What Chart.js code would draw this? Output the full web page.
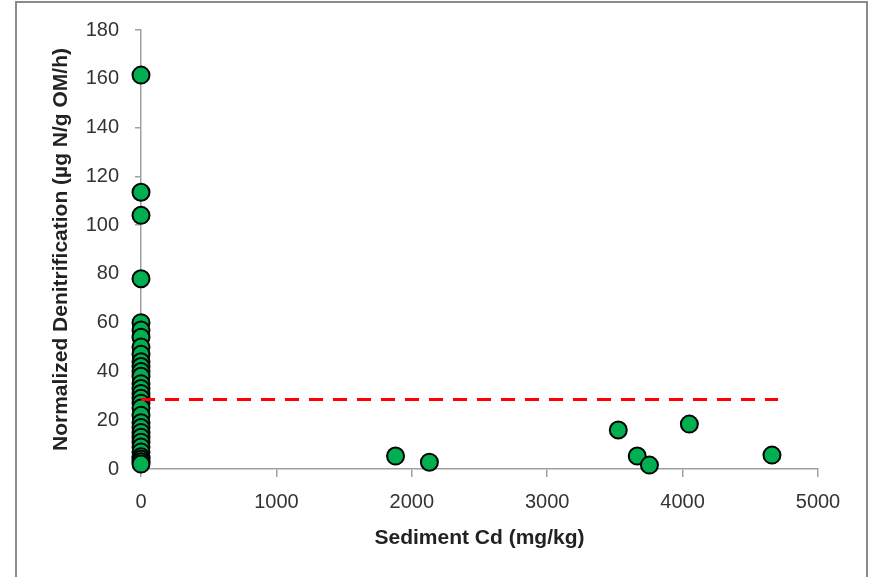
<!DOCTYPE html>
<html>
<head>
<meta charset="utf-8">
<script src="https://cdn.jsdelivr.net/npm/chart.js@4"></script>
<style>
  html, body { margin: 0; padding: 0; background: #fff; }
  #wrap { position: relative; width: 875px; height: 577px; }
</style>
</head>
<body>
<div id="wrap"><canvas id="chart" width="875" height="577"></canvas></div>
<script>
// sediment Cd (mg/kg) vs normalized denitrification (ug N/g OM/h)
var CD = [0, 0, 0, 0, 0, 0, 0, 0, 0, 0, 0, 0, 0, 0, 0, 0, 0, 0, 0, 0, 0, 0, 0, 0, 0, 0, 0, 0, 0, 0, 0,
          1880, 2130, 3525, 3665, 3755, 4050, 4660];
var DENIT = [161.5, 113.5, 104, 78, 60, 57, 54, 50, 47, 44, 42, 40, 38, 35, 33, 31, 29, 27, 25, 22, 19, 17, 15, 13, 11, 9, 7, 5, 4, 3, 2,
             5.3, 2.8, 16, 5.3, 1.6, 18.4, 5.7];
// threshold line
var THRESH_X = [0, 4705];
var THRESH_Y = [28.5, 28.5];
var X_TICKS = [0, 1000, 2000, 3000, 4000, 5000];
var Y_TICKS = [0, 20, 40, 60, 80, 100, 120, 140, 160, 180];

var points = CD.map(function (x, i) { return { x: x, y: DENIT[i] }; });
var thresh = THRESH_X.map(function (x, i) { return { x: x, y: THRESH_Y[i] }; });

var frame = {
  id: 'frame',
  beforeDraw: function (c) {
    var ctx = c.ctx;
    ctx.save();
    ctx.fillStyle = '#fff';
    ctx.fillRect(0, 0, c.width, c.height);
    ctx.restore();
  },
  afterDraw: function (c) {
    var ctx = c.ctx;
    ctx.save();
    ctx.strokeStyle = '#8a8a8a';
    ctx.lineWidth = 2;
    ctx.strokeRect(16, 2, 851, 620);
    ctx.restore();
  }
};

var tickFont = { family: '"Liberation Sans", Arial, sans-serif', size: 20 };
var titleFont = { family: '"Liberation Sans", Arial, sans-serif', size: 21, weight: 'bold' };
function plain(v) { return String(v); }

new Chart(document.getElementById('chart'), {
  type: 'scatter',
  data: {
    datasets: [
      {
        type: 'line',
        data: thresh,
        borderColor: '#ff0000',
        borderWidth: 3,
        borderDash: [14, 10],
        pointRadius: 0,
        fill: false,
        clip: false
      },
      {
        data: points,
        backgroundColor: '#00b050',
        borderColor: '#000',
        borderWidth: 2,
        pointRadius: 8.5,
        pointHoverRadius: 8.5,
        clip: false
      }
    ]
  },
  options: {
    responsive: false,
    animation: false,
    events: [],
    layout: { padding: { left: 0, right: 57, top: 30, bottom: 0 } },
    plugins: { legend: { display: false }, tooltip: { enabled: false } },
    scales: {
      x: {
        type: 'linear',
        min: 0,
        max: 5000,
        afterBuildTicks: function (s) { s.ticks = X_TICKS.map(function (v) { return { value: v }; }); },
        afterFit: function (s) { s.height = 108; },
        border: { color: '#a0a0a0', width: 1.5 },
        grid: { drawOnChartArea: false, drawTicks: true, tickLength: 8, color: '#a0a0a0', lineWidth: 1.5 },
        ticks: { font: tickFont, color: '#333', padding: 13, maxRotation: 0, callback: plain },
        title: { display: true, text: 'Sediment Cd (mg/kg)', font: titleFont, color: '#222', padding: { top: 0, bottom: 26 } }
      },
      y: {
        type: 'linear',
        min: 0,
        max: 180,
        afterBuildTicks: function (s) { s.ticks = Y_TICKS.map(function (v) { return { value: v }; }); },
        afterFit: function (s) { s.width = 141; },
        border: { color: '#a0a0a0', width: 1.5 },
        grid: { drawOnChartArea: false, drawTicks: true, tickLength: 6, color: '#a0a0a0', lineWidth: 1.5 },
        ticks: { font: tickFont, color: '#333', padding: 16, callback: plain },
        title: { display: true, text: 'Normalized Denitrification (µg N/g OM/h)', font: titleFont, color: '#222', padding: { top: 49, bottom: 0 } }
      }
    }
  },
  plugins: [frame]
});
</script>
</body>
</html>
